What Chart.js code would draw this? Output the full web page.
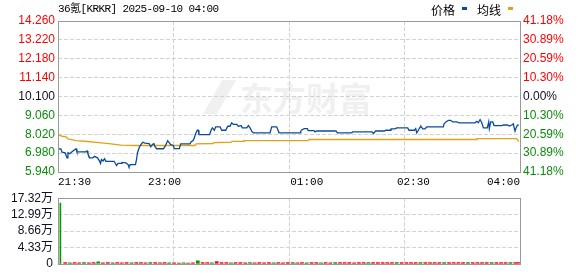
<!DOCTYPE html>
<html>
<head>
<meta charset="utf-8">
<script src="https://cdn.jsdelivr.net/npm/chart.js@4.4.1/dist/chart.umd.min.js"></script>
<style>
  html, body { margin: 0; padding: 0; background: #fff; }
  #wrap { position: relative; width: 578px; height: 276px; }
  #price { position: absolute; left: 0; top: 0; }
  #vol { position: absolute; left: 0; top: 186px; }
</style>
</head>
<body>
<div id="wrap">
  <canvas id="price" width="578" height="196"></canvas>
  <canvas id="vol" width="578" height="90"></canvas>
</div>
<script>
// header text
const chartTitle = '36氪[KRKR] 2025-09-10 04:00';
const watermark = '东方财富';

// time axis (minutes after 21:30)
const gridMinutes = [0, 97.5, 195, 292.5, 390];
const timeTickMinutes = [0, 90, 210, 300, 390];
const timeTickLabels = ['21:30', '23:00', '01:00', '02:30', '04:00'];

// price axis
const priceTicks = [5.94, 6.98, 8.02, 9.06, 10.1, 11.14, 12.18, 13.22, 14.26];
const priceTickLabels = ['5.940', '6.980', '8.020', '9.060', '10.100', '11.140', '12.180', '13.220', '14.260'];
const pctTickLabels = ['41.18%', '30.89%', '20.59%', '10.30%', '0.00%', '10.30%', '20.59%', '30.89%', '41.18%'];

// price line
const priceMin = [
  0, 2.5, 3.4, 6, 7.6, 8.4, 10, 11.8, 13.5, 15.2,
  16, 23.6, 24.5, 25.3, 26.6, 29.5, 30.8, 33.3, 35, 35.9,
  36.7, 38, 39.3, 40.5, 47.3, 48.5, 49.4, 50.7, 53.2, 54,
  57.4, 59.1, 59.9, 61.2, 65.4, 66.3, 67.1, 68.8, 70, 71.5,
  73.4, 77, 78.3, 79.9, 81, 81.9, 83.3, 88.9, 90.3, 91.8,
  92.6, 94, 95.1, 97.3, 98.2, 102.4, 103.6, 111.4, 112.3, 114.2,
  115.1, 116.2, 117.6, 118.4, 119, 127.9, 129.2, 130.3, 132, 133.1,
  136.8, 138.2, 141.6, 143.3, 145.2, 146.6, 148, 150.9, 152.2, 154.5,
  155.6, 159.3, 160.7, 162.1, 163.5, 164.9, 179, 180.4, 184.6, 186.6,
  204.3, 204.9, 206, 207.9, 210.5, 211.3, 216.1, 217, 218.4, 234.7,
  235.8, 247.9, 248.8, 265.1, 266.2, 268.2, 275.5, 276.7, 280.3, 281.1,
  284.5, 285.9, 295.2, 296.3, 300.8, 302, 302.8, 304.2, 305.6, 306.4,
  307.9, 309.8, 311.3, 325.3, 325.9, 327.5, 329.5, 331.5, 333.2, 336.6,
  338.8, 352, 353.5, 354.8, 356.3, 357.7, 359.1, 362.4, 363.6, 364.1,
  365.3, 367, 368.1, 374.6, 376, 379.3, 381, 383, 384.4, 385,
  385.8, 386.7, 387.8, 389
];
const priceVal = [
  7.22, 7.20, 7.03, 7.00, 6.72, 7.00, 6.95, 7.05, 7.14, 7.22,
  7.05, 7.05, 7.10, 6.94, 6.72, 6.72, 6.80, 6.72, 6.55, 6.41,
  6.63, 6.55, 6.67, 6.53, 6.53, 6.41, 6.30, 6.41, 6.41, 6.47,
  6.44, 6.35, 6.23, 6.35, 6.35, 6.63, 7.00, 7.33, 7.45, 7.58,
  7.53, 7.50, 7.33, 7.47, 7.50, 7.33, 7.22, 7.22, 7.33, 7.55,
  7.66, 7.55, 7.45, 7.40, 7.23, 7.23, 7.49, 7.49, 7.60, 7.69,
  7.82, 8.06, 8.24, 8.24, 8.00, 8.00, 8.24, 8.37, 8.24, 8.43,
  8.43, 8.24, 8.24, 8.46, 8.46, 8.65, 8.56, 8.56, 8.46, 8.50,
  8.37, 8.37, 8.50, 8.37, 8.19, 8.10, 8.10, 8.43, 8.43, 8.10,
  8.10, 8.19, 8.27, 8.33, 8.33, 8.22, 8.22, 8.15, 8.20, 8.20,
  8.10, 8.10, 8.15, 8.15, 8.06, 8.20, 8.20, 8.24, 8.24, 8.32,
  8.32, 8.37, 8.37, 8.24, 8.24, 8.33, 8.10, 8.24, 8.41, 8.46,
  8.32, 8.32, 8.43, 8.43, 8.59, 8.70, 8.79, 8.79, 8.70, 8.70,
  8.65, 8.65, 8.73, 8.65, 8.83, 8.65, 8.37, 8.37, 8.70, 8.33,
  8.70, 8.70, 8.50, 8.50, 8.53, 8.53, 8.47, 8.53, 8.59, 8.40,
  8.19, 8.37, 8.52, 8.52
];

// average line
const avgMin = [0, 3.4, 6.8, 8.4, 15.2, 25.3, 34.6, 44.7, 53.2, 65.8, 115.6, 116.5,
  130.9, 131.7, 146, 146.9, 156.2, 157, 211, 211.9, 352.9, 353.7, 387.1, 389];
const avgVal = [8.00, 7.91, 7.88, 7.76, 7.67, 7.62, 7.56, 7.49, 7.42, 7.40, 7.40, 7.49,
  7.51, 7.56, 7.58, 7.63, 7.63, 7.67, 7.67, 7.73, 7.73, 7.78, 7.78, 7.62];

// volume (万), up = 1 red, 0 green
const volTicks = [0, 4.33, 8.66, 12.99, 17.32];
const volTickLabels = ['0', '4.33万', '8.66万', '12.99万', '17.32万'];
const volMin = [
  2, 6, 10, 14, 18, 22, 26, 30, 34, 38, 42, 46, 50, 54, 58, 62, 66, 70, 74, 78,
  82, 86, 90, 94, 98, 102, 106, 110, 114, 118, 122, 126, 130, 134, 138, 142, 146, 150, 154, 158,
  162, 166, 170, 174, 178, 182, 186, 190, 194, 198, 202, 206, 210, 214, 218, 222, 226, 230, 234, 238,
  242, 246, 250, 254, 258, 262, 266, 270, 274, 278, 282, 286, 290, 294, 298, 302, 306, 310, 314, 318,
  322, 326, 330, 334, 338, 342, 346, 350, 354, 358, 362, 366, 370, 374, 378, 382, 386, 389
];
const volVal = [
  16.0, 0.3, 0.25, 0.3, 0.25, 0.3, 0.25, 0.3, 0.55, 0.25, 0.3, 0.25, 0.3, 0.25, 0.3, 0.25, 0.3, 0.3, 0.25, 0.3,
  0.3, 0.25, 0.3, 0.25, 0.25, 0.2, 0.25, 0.2, 0.25, 0.8, 0.3, 0.3, 0.25, 0.6, 0.3, 0.3, 0.25, 0.3, 0.3, 0.25,
  0.3, 0.25, 0.3, 0.25, 0.3, 0.25, 0.3, 0.25, 0.3, 0.3, 0.25, 0.3, 0.25, 0.3, 0.3, 0.25, 0.3, 0.25, 0.3, 0.3,
  0.3, 0.3, 0.25, 0.3, 0.3, 0.3, 0.3, 0.3, 0.3, 0.3, 0.3, 0.3, 0.3, 0.3, 0.3, 0.3, 0.3, 0.3, 0.3, 0.3,
  0.3, 0.3, 0.3, 0.3, 0.3, 0.3, 0.3, 0.3, 0.3, 0.3, 0.3, 0.3, 0.3, 0.3, 0.3, 0.3, 0.3, 0.3
];
const volUp = [
  0, 1, 0, 1, 1, 0, 1, 1, 0, 1, 1, 0, 1, 1, 1, 0, 1, 1, 1, 0,
  1, 1, 1, 0, 1, 1, 0, 1, 1, 0, 1, 1, 0, 1, 1, 1, 0, 1, 1, 1,
  0, 1, 1, 1, 1, 0, 1, 1, 1, 0, 1, 1, 0, 1, 1, 0, 1, 1, 0, 1,
  1, 1, 1, 1, 1, 0, 1, 1, 1, 1, 1, 0, 1, 1, 1, 1, 0, 1, 1, 1,
  1, 0, 1, 1, 1, 1, 0, 1, 1, 1, 1, 0, 1, 1, 1, 0, 1, 1
];

const RED = '#ff0000';
const GREEN = '#0c8c0c';
const BAR_GREEN = '#009900';
const DARK = '#101020';
const GRID = '#d2d2d2';
const BORDER = '#999999';
const tickFont = { family: '"Liberation Sans", "Noto Sans CJK SC", sans-serif', size: 12 };

const boxPlugin = {
  id: 'box',
  afterDraw(chart) {
    const { ctx, chartArea: a } = chart;
    ctx.save();
    ctx.strokeStyle = BORDER;
    ctx.lineWidth = 1;
    ctx.strokeRect(Math.round(a.left) + 0.5, Math.round(a.top) + 0.5,
      Math.round(a.right - a.left), Math.round(a.bottom - a.top));
    ctx.restore();
  }
};

const headerPlugin = {
  id: 'header',
  beforeDraw(chart) {
    const { ctx } = chart;
    ctx.save();
    // faint logo mark + name
    ctx.fillStyle = 'rgba(215,215,215,0.38)';
    ctx.beginPath();
    ctx.moveTo(203, 114); ctx.lineTo(222, 80); ctx.lineTo(236, 80); ctx.lineTo(217, 114);
    ctx.closePath();
    ctx.fill();
    ctx.font = 'bold 33px "Noto Sans CJK SC"';
    ctx.textBaseline = 'middle';
    ctx.fillText(watermark, 240, 98);
    ctx.restore();
  },
  afterDraw(chart) {
    const { ctx } = chart;
    ctx.save();
    ctx.fillStyle = '#000';
    ctx.textBaseline = 'middle';
    ctx.font = '11px "Liberation Mono", "Noto Sans CJK SC", monospace';
    if ('letterSpacing' in ctx) ctx.letterSpacing = '-0.6px';
    ctx.fillText(chartTitle, 58, 9);
    if ('letterSpacing' in ctx) ctx.letterSpacing = '0px';
    // legend
    ctx.font = '12px "Noto Sans CJK SC"';
    let x = 431;
    chart.data.datasets.forEach(d => {
      ctx.fillStyle = '#000';
      ctx.fillText(d.label, x, 10);
      x += ctx.measureText(d.label).width + 7;
      ctx.fillStyle = d.borderColor;
      ctx.fillRect(x, 7, 5, 3);
      x += 15;
    });
    ctx.restore();
  }
};

const tickColor = (i) => (i > 4 ? RED : i < 4 ? GREEN : DARK);

new Chart(document.getElementById('price'), {
  type: 'line',
  data: {
    datasets: [
      {
        label: '价格',
        data: priceMin.map((m, i) => ({ x: m, y: priceVal[i] })),
        borderColor: '#0a4c9c',
        borderWidth: 1.3,
        pointRadius: 0,
        tension: 0
      },
      {
        label: '均线',
        data: avgMin.map((m, i) => ({ x: m, y: avgVal[i] })),
        borderColor: '#e0a218',
        borderWidth: 1.3,
        pointRadius: 0,
        tension: 0
      }
    ]
  },
  options: {
    responsive: false,
    animation: false,
    layout: { padding: { top: 21, left: 0, right: 0, bottom: 0 } },
    plugins: { legend: { display: false }, tooltip: { enabled: false } },
    scales: {
      x: {
        type: 'linear', min: 0, max: 390,
        afterBuildTicks: s => { s.ticks = gridMinutes.map(v => ({ value: v })); },
        afterFit: s => { s.height = 0; },
        ticks: { display: false },
        grid: { color: GRID, drawTicks: false },
        border: { display: false, dash: [4, 2] }
      },
      x2: {
        type: 'linear', position: 'bottom', min: 0, max: 390,
        afterBuildTicks: s => { s.ticks = timeTickMinutes.map(v => ({ value: v })); },
        afterFit: s => { s.height = 24; },
        ticks: {
          autoSkip: false, maxRotation: 0, align: 'inner', padding: 3, color: '#000',
          font: { family: '"Liberation Mono", monospace', size: 11 },
          callback: (v, i) => timeTickLabels[i]
        },
        grid: { display: false, drawTicks: false },
        border: { display: false }
      },
      y: {
        type: 'linear', position: 'left', min: priceTicks[0], max: priceTicks[8],
        afterBuildTicks: s => { s.ticks = priceTicks.map(v => ({ value: v })); },
        afterFit: s => { s.width = 58; },
        ticks: {
          padding: 3, font: tickFont,
          color: c => tickColor(c.index),
          callback: (v, i) => priceTickLabels[i]
        },
        grid: { color: GRID, drawTicks: false },
        border: { display: false, dash: [4, 2] }
      },
      y2: {
        type: 'linear', position: 'right', min: priceTicks[0], max: priceTicks[8],
        afterBuildTicks: s => { s.ticks = priceTicks.map(v => ({ value: v })); },
        afterFit: s => { s.width = 58; },
        ticks: {
          padding: 3, font: tickFont,
          color: c => tickColor(c.index),
          callback: (v, i) => pctTickLabels[i]
        },
        grid: { display: false, drawTicks: false },
        border: { display: false }
      }
    }
  },
  plugins: [headerPlugin, boxPlugin]
});

// tall bars drawn 1px wide, the small ones as short dashes
const volBars = volMin.map((m, i) => ({ x: m, y: volVal[i], up: volUp[i] }));
const bigBars = volBars.filter(b => b.y >= 1);
const smallBars = volBars.filter(b => b.y < 1);

new Chart(document.getElementById('vol'), {
  type: 'bar',
  data: {
    datasets: [
      {
        label: '成交量',
        data: bigBars,
        backgroundColor: bigBars.map(b => (b.up ? RED : BAR_GREEN)),
        barThickness: 1,
        grouped: false
      },
      {
        label: '成交量',
        data: smallBars,
        backgroundColor: smallBars.map(b => (b.up ? RED : BAR_GREEN)),
        barThickness: 3,
        grouped: false
      }
    ]
  },
  options: {
    responsive: false,
    animation: false,
    layout: { padding: { top: 10, left: 0, right: 58, bottom: 6 } },
    plugins: { legend: { display: false }, tooltip: { enabled: false } },
    scales: {
      x: {
        type: 'linear', min: 0, max: 390, offset: false,
        afterBuildTicks: s => { s.ticks = gridMinutes.map(v => ({ value: v })); },
        afterFit: s => { s.height = 0; },
        ticks: { display: false },
        grid: { color: GRID, drawTicks: false, offset: false },
        border: { display: false, dash: [4, 2] }
      },
      y: {
        type: 'linear', min: 0, max: 17.32,
        afterBuildTicks: s => { s.ticks = volTicks.map(v => ({ value: v })); },
        afterFit: s => { s.width = 58; },
        ticks: {
          padding: 5, font: tickFont, color: DARK,
          callback: (v, i) => volTickLabels[i]
        },
        grid: { color: GRID, drawTicks: false },
        border: { display: false, dash: [4, 2] }
      }
    }
  },
  plugins: [boxPlugin]
});
</script>
</body>
</html>
